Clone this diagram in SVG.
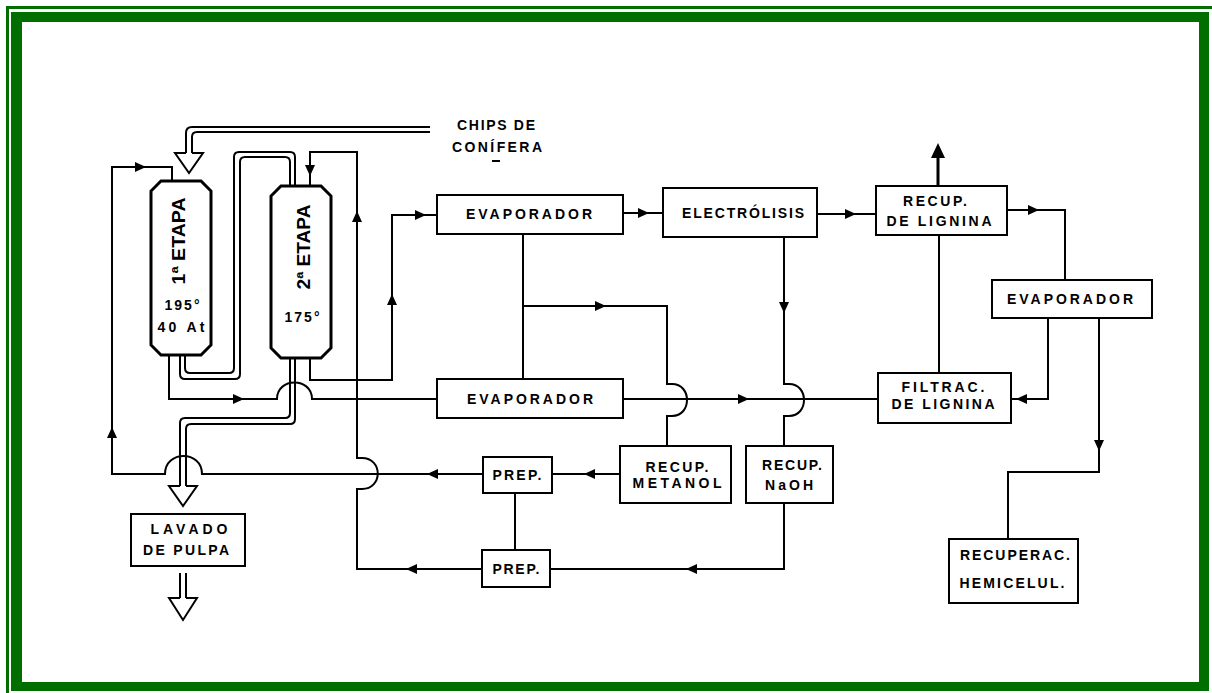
<svg xmlns="http://www.w3.org/2000/svg" xmlns:xlink="http://www.w3.org/1999/xlink" width="1212" height="693" viewBox="0 0 1212 693">
<style>
.ln{fill:none;stroke:#000;stroke-width:2}
.box{fill:#fff;stroke:#000;stroke-width:2}
.ves{fill:#fff;stroke:#000;stroke-width:3}
.t{font-family:"Liberation Sans",Arial,sans-serif;font-weight:bold;font-size:14px;text-anchor:middle;fill:#000}
.tv{font-family:"Liberation Sans",Arial,sans-serif;font-weight:bold;font-size:19px;text-anchor:middle;fill:#000}
</style>
<defs>
<path id="ah" d="M-5,-5 L6,0 L-5,5 Z"/>
</defs>
<rect width="1212" height="693" fill="#fff"/>
<g id="frame" fill="#006f00">
<rect x="6" y="6" width="1206" height="3"/>
<rect x="6" y="6" width="3" height="687"/>
<path fill-rule="evenodd" d="M11,12 H1209 V691 H11 Z M22,22 V682 H1199 V22 Z"/>
</g>
<g id="connectors">
<path class="ln" d="M430,127 H192 Q186,127 186,133 V153 M430,132 H197 Q192,132 192,137 V153"/>
<path class="ln" d="M186,153 H175 L189,173 L203,153 H192"/>
<path class="ln" d="M180,355 V374 Q180,379 185,379 H235 Q240,379 240,374 V162 Q240,157 245,157 H285 Q290,157 290,162 V186"/>
<path class="ln" d="M185,355 V368 Q185,373 190,373 H229 Q234,373 234,368 V157 Q234,152 239,152 H290 Q295,152 295,157 V186"/>
<path class="ln" d="M290,358 V413 Q290,418 285,418 H185 Q180,418 180,423 V486"/>
<path class="ln" d="M295,358 V419 Q295,424 290,424 H191 Q186,424 186,429 V486"/>
<path class="ln" d="M180,486 H169 L183,506 L197,486 H186"/>
<path class="ln" d="M180,573 V598 M186,573 V598 M180,598 H169 L183,620 L197,598 H186"/>
<path class="ln" d="M172,181 V167 H112 V474 H165 C165,450 202,450 202,474 H483"/>
<path class="ln" d="M620,474 H552"/>
<path class="ln" d="M169,355 V399 H277 C277,377 312,377 312,399 H437"/>
<path class="ln" d="M310,186 V152 H357 V458 H362 C383,458 383,489 362,489 H357 V569 H482"/>
<path class="ln" d="M310,358 V380 H392 V215 H437"/>
<path class="ln" d="M523,234 V379 M523,306 H667 V384 H672 C692,384 692,416 672,416 H667 V446"/>
<path class="ln" d="M784,237 V384 H789 C809,384 809,416 789,416 H784 V446"/>
<path class="ln" d="M623,399 H877"/>
<path class="ln" d="M623,213 H663"/>
<path class="ln" d="M817,214 H876"/>
<path class="ln" d="M1007,210 H1065 V280"/>
<path class="ln" d="M939,235 V373"/>
<path class="ln" d="M1048,318 V399 H1011"/>
<path class="ln" d="M1099,318 V472 H1008 V539"/>
<path class="ln" d="M784,503 V569 H550"/>
<path class="ln" d="M515,493 V550"/>
<path d="M938,186 V155" fill="none" stroke="#000" stroke-width="3"/>
<path d="M931,158 L938,143 L945,158 Z" fill="#000"/>
<use xlink:href="#ah" href="#ah" transform="translate(140,167)"/>
<use xlink:href="#ah" href="#ah" transform="translate(112,433) rotate(-90)"/>
<use xlink:href="#ah" href="#ah" transform="translate(238,399)"/>
<use xlink:href="#ah" href="#ah" transform="translate(310,170) rotate(90)"/>
<use xlink:href="#ah" href="#ah" transform="translate(357,217) rotate(-90)"/>
<use xlink:href="#ah" href="#ah" transform="translate(392,300) rotate(-90)"/>
<use xlink:href="#ah" href="#ah" transform="translate(420,215)"/>
<use xlink:href="#ah" href="#ah" transform="translate(643,213)"/>
<use xlink:href="#ah" href="#ah" transform="translate(850,214)"/>
<use xlink:href="#ah" href="#ah" transform="translate(1033,210)"/>
<use xlink:href="#ah" href="#ah" transform="translate(600,306)"/>
<use xlink:href="#ah" href="#ah" transform="translate(784,307) rotate(90)"/>
<use xlink:href="#ah" href="#ah" transform="translate(743,399)"/>
<use xlink:href="#ah" href="#ah" transform="translate(1022,399) rotate(180)"/>
<use xlink:href="#ah" href="#ah" transform="translate(1099,445) rotate(90)"/>
<use xlink:href="#ah" href="#ah" transform="translate(590,474) rotate(180)"/>
<use xlink:href="#ah" href="#ah" transform="translate(433,474) rotate(180)"/>
<use xlink:href="#ah" href="#ah" transform="translate(692,569) rotate(180)"/>
<use xlink:href="#ah" href="#ah" transform="translate(412,569) rotate(180)"/>
</g>
<g id="chips">
<text class="t" x="496" y="130" textLength="78">CHIPS DE</text>
<text class="t" x="497" y="152" textLength="90">CONÍFERA</text>
<path d="M492,161 H500" stroke="#000" stroke-width="2"/>
</g>
<g id="etapa1">
<path class="ves" d="M161,181 H201 L211,191 V345 L201,355 H161 L151,345 V191 Z"/>
<text class="tv" transform="translate(178,241) rotate(-90)" x="0" y="7" textLength="87" lengthAdjust="spacingAndGlyphs">1ª ETAPA</text>
<text class="t" x="182" y="310" textLength="35">195°</text>
<text class="t" x="181" y="332" textLength="47">40 At</text>
</g>
<g id="etapa2">
<path class="ves" d="M281,186 H321 L331,196 V348 L321,358 H281 L271,348 V196 Z"/>
<text class="tv" transform="translate(303,247) rotate(-90)" x="0" y="7" textLength="85" lengthAdjust="spacingAndGlyphs">2ª ETAPA</text>
<text class="t" x="302" y="322" textLength="35">175°</text>
</g>
<g id="evaporador1">
<rect class="box" x="437" y="195" width="186" height="39"/>
<text class="t" x="529" y="219" textLength="126">EVAPORADOR</text>
</g>
<g id="electrolisis">
<rect class="box" x="663" y="188" width="154" height="49"/>
<text class="t" x="743" y="218" textLength="122">ELECTRÓLISIS</text>
</g>
<g id="recup-lignina">
<rect class="box" x="876" y="186" width="131" height="49"/>
<text class="t" x="935" y="206" textLength="64">RECUP.</text>
<text class="t" x="939" y="226" textLength="105">DE LIGNINA</text>
</g>
<g id="evaporador3">
<rect class="box" x="992" y="280" width="160" height="38"/>
<text class="t" x="1070" y="304" textLength="126">EVAPORADOR</text>
</g>
<g id="evaporador2">
<rect class="box" x="437" y="379" width="186" height="39"/>
<text class="t" x="530" y="404" textLength="126">EVAPORADOR</text>
</g>
<g id="filtrac-lignina">
<rect class="box" x="878" y="373" width="133" height="50"/>
<text class="t" x="943" y="392" textLength="83">FILTRAC.</text>
<text class="t" x="943" y="409" textLength="103">DE LIGNINA</text>
</g>
<g id="recup-metanol">
<rect class="box" x="620" y="446" width="111" height="57"/>
<text class="t" x="677" y="472" textLength="63">RECUP.</text>
<text class="t" x="677" y="488" textLength="89">METANOL</text>
</g>
<g id="recup-naoh">
<rect class="box" x="746" y="446" width="87" height="57"/>
<text class="t" x="792" y="470" textLength="60">RECUP.</text>
<text class="t" x="789" y="490" textLength="48">NaOH</text>
</g>
<g id="prep1">
<rect class="box" x="483" y="457" width="69" height="36"/>
<text class="t" x="517" y="480" textLength="49">PREP.</text>
</g>
<g id="prep2">
<rect class="box" x="482" y="550" width="68" height="37"/>
<text class="t" x="516" y="574" textLength="47">PREP.</text>
</g>
<g id="lavado">
<rect class="box" x="131" y="514" width="114" height="52"/>
<text class="t" x="189" y="534" textLength="77">LAVADO</text>
<text class="t" x="186" y="555" textLength="86">DE PULPA</text>
</g>
<g id="recuperac-hemicelul">
<rect class="box" x="949" y="539" width="129" height="64"/>
<text class="t" x="1015" y="560" textLength="110">RECUPERAC.</text>
<text class="t" x="1012" y="588" textLength="105">HEMICELUL.</text>
</g>
</svg>
